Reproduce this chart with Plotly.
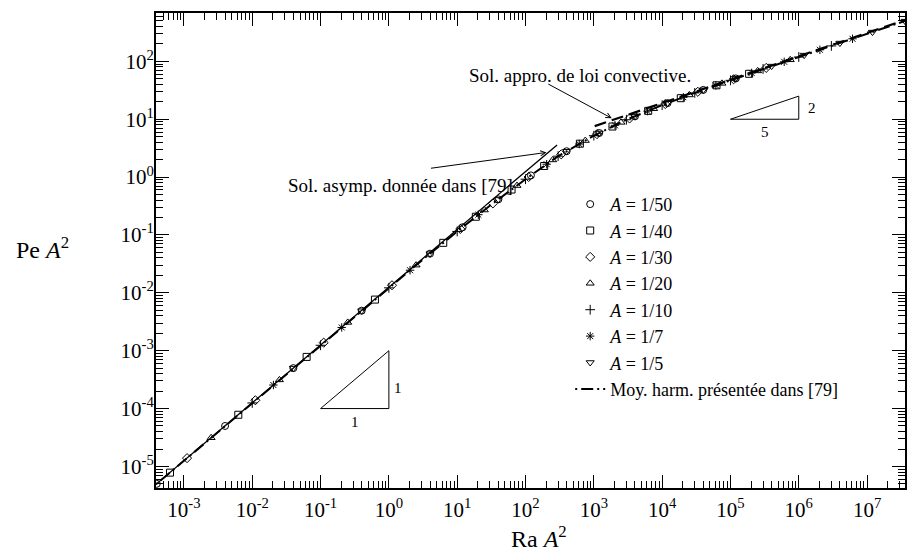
import plotly.graph_objects as go

# ---------------- data ----------------
labels = ["<i>A</i> = 1/50", "<i>A</i> = 1/40", "<i>A</i> = 1/30", "<i>A</i> = 1/20",
          "<i>A</i> = 1/10", "<i>A</i> = 1/7", "<i>A</i> = 1/5"]

x_50 = [4e-4, 4e-3, 0.04, 0.4, 4, 12, 40, 120, 400, 1200, 4000, 12000, 40000, 1.2e5]
y_50 = [5.0e-6, 5.0e-5, 5.0e-4, 4.91e-3, 0.0475, 0.136, 0.412, 1.07, 2.80, 5.78, 11.2, 19.0, 32.1, 50.7]

x_40 = [6.25e-4, 6.25e-3, 0.0625, 0.625, 6.25, 18.75, 62.5, 187.5, 625, 1875, 6250, 18750, 62500, 1.875e5]
y_40 = [7.81e-6, 7.81e-5, 7.81e-4, 7.64e-3, 0.0731, 0.2065, 0.610, 1.556, 3.78, 7.48, 13.96, 23.1, 38.6, 61.0]

x_30 = [1.11e-3, 0.0111, 0.111, 1.111, 11.11, 33.3, 111.1, 333, 1111, 3333, 11111, 33333, 1.111e5, 3.333e5]
y_30 = [1.39e-5, 1.39e-4, 1.377e-3, 0.01352, 0.127, 0.351, 1.005, 2.47, 5.53, 10.3, 18.3, 29.8, 49.1, 77.1]

x_20 = [2.5e-3, 0.025, 0.25, 2.5, 25, 75, 250, 750, 2500, 7500, 25000, 75000, 2.5e5, 7.5e5]
y_20 = [3.13e-5, 3.13e-4, 3.08e-3, 0.0301, 0.270, 0.714, 1.98, 4.28, 8.83, 15.2, 26.3, 41.7, 68.5, 106.4]

x_10 = [0.01, 0.1, 1, 10, 100, 300, 1000, 3000, 1e4, 3e4, 1e5, 3e5, 1e6, 3e6]
y_10 = [1.25e-4, 1.24e-3, 0.0122, 0.115, 0.92, 2.30, 5.2, 9.8, 17.5, 28.5, 47, 74, 119, 185]

x_7 = [0.0204, 0.204, 2.04, 20.4, 204, 612, 2041, 6122, 20408, 61224, 2.04e5, 6.12e5, 2.04e6, 6.12e6]
y_7 = [2.55e-4, 2.52e-3, 0.0246, 0.224, 1.67, 3.73, 7.85, 13.8, 24.0, 38.4, 63.1, 98.2, 158.5, 245.6]

x_5 = [0.04, 0.4, 4, 40, 400, 1200, 4000, 12000, 40000, 1.2e5, 4e5, 1.2e6, 4e6, 1.2e7, 3.6e7]
y_5 = [5.0e-4, 4.91e-3, 0.0475, 0.412, 2.80, 5.78, 11.2, 19.0, 32.1, 50.7, 82.8, 128.2, 207, 320.6, 495]

# harmonic mean curve
hm_x = [3.9e-4, 1e-3, 1e-2, 1e-1, 1, 3, 10, 30, 100, 300, 1e3, 3e3, 1e4, 3e4, 1e5, 3e5, 1e6, 3e6, 1e7, 3.6e7]
hm_y = [4.9e-6, 1.25e-5, 1.25e-4, 1.24e-3, 0.0122, 0.036, 0.115, 0.32, 0.92, 2.3, 5.2, 9.8, 17.5, 28.5, 47, 74, 119, 185, 298, 500]

# asymptotic (conductive) solution and convective law
asym_x = [3.9e-4, 290]
asym_y = [4.9e-6, 3.6]
conv_x = [1.03e3, 3.6e7]
conv_y = [7.6, 520]

# slope triangles
tri1_x = [0.1, 1, 1, 0.1]
tri1_y = [1e-4, 1e-4, 1e-3, 1e-4]
tri2_x = [1e5, 1e6, 1e6, 1e5]
tri2_y = [10, 10, 25.1, 10]

x_tick_exp = [-3, -2, -1, 0, 1, 2, 3, 4, 5, 6, 7]
y_tick_exp = [-5, -4, -3, -2, -1, 0, 1, 2]

# ---------------- figure ----------------
FONT = "Liberation Serif"
fig = go.Figure()

# lines
fig.add_trace(go.Scatter(x=asym_x, y=asym_y, mode="lines", showlegend=False,
                         line=dict(color="black", width=1.3), hoverinfo="skip"))
fig.add_trace(go.Scatter(x=conv_x, y=conv_y, mode="lines", showlegend=False,
                         line=dict(color="black", width=2.2, dash="12px,6px"), hoverinfo="skip"))
fig.add_trace(go.Scatter(x=tri1_x, y=tri1_y, mode="lines", showlegend=False,
                         line=dict(color="black", width=1), hoverinfo="skip"))
fig.add_trace(go.Scatter(x=tri2_x, y=tri2_y, mode="lines", showlegend=False,
                         line=dict(color="black", width=1), hoverinfo="skip"))

series = [(x_50, y_50, "circle-open"), (x_40, y_40, "square-open"), (x_30, y_30, "diamond-open"),
          (x_20, y_20, "triangle-up-open"), (x_10, y_10, "cross-thin-open"),
          (x_7, y_7, "asterisk-open"), (x_5, y_5, "triangle-down-open")]
for i, ((xs, ys, sym), lab) in enumerate(zip(series, labels)):
    fig.add_trace(go.Scatter(x=xs, y=ys, mode="markers", name=lab, legendrank=i + 1,
                             marker=dict(symbol=sym, size=7, color="black",
                                         line=dict(color="black", width=1))))

fig.add_trace(go.Scatter(x=hm_x, y=hm_y, mode="lines", name="Moy. harm. présentée dans [79]",
                         legendrank=10, line=dict(color="black", width=2, dash="2px,4px,12px,4px")))

# minor ticks
minor_x = [m * 10 ** k for k in range(-4, 8) for m in range(2, 10)]
minor_y = [m * 10 ** k for k in range(-6, 3) for m in range(2, 10)]

axis_common = dict(showline=True, linecolor="black", linewidth=2, mirror="ticks",
                   ticks="inside", ticklen=13, tickwidth=1.2, tickcolor="black",
                   showgrid=False, zeroline=False,
                   tickfont=dict(family=FONT, size=21, color="black"))

fig.update_xaxes(type="log", range=[-3.409, 7.555], tickmode="array",
                 tickvals=[10 ** e for e in x_tick_exp],
                 ticktext=[f"10<sup>{e}</sup>" for e in x_tick_exp],
                 ticklabelstandoff=2,
                 minor=dict(tickmode="array", tickvals=minor_x, ticks="inside", ticklen=7,
                            tickwidth=1, tickcolor="black", showgrid=False),
                 **axis_common)
fig.update_yaxes(type="log", range=[-5.373, 2.836], tickmode="array",
                 tickvals=[10 ** e for e in y_tick_exp],
                 ticktext=[f"10<sup>{e}</sup>" for e in y_tick_exp],
                 ticklabelstandoff=-4,
                 minor=dict(tickmode="array", tickvals=minor_y, ticks="inside", ticklen=7,
                            tickwidth=1, tickcolor="black", showgrid=False),
                 **axis_common)

ann = []
# axis titles
ann.append(dict(text="Pe <i>A</i><sup>2</sup>", xref="paper", yref="paper", x=-0.152, y=0.505,
                xanchor="center", yanchor="middle",
                showarrow=False, font=dict(family=FONT, size=24, color="black")))
ann.append(dict(text="Ra <i>A</i><sup>2</sup>", xref="paper", yref="paper", x=0.511, y=-0.104,
                xanchor="center", yanchor="middle",
                showarrow=False, font=dict(family=FONT, size=24, color="black")))
# texts
ann.append(dict(text="Sol. appro. de loi convective.", xref="paper", yref="paper", x=0.566, y=0.869,
                xanchor="center", yanchor="middle",
                showarrow=False, font=dict(family=FONT, size=19, color="black")))
ann.append(dict(text="Sol. asymp. donnée dans [79]", xref="paper", yref="paper", x=0.326, y=0.636,
                xanchor="center", yanchor="middle",
                showarrow=False, font=dict(family=FONT, size=19, color="black")))
# arrows (log coordinates)
ann.append(dict(text="", x=2.307, y=0.426, xref="x", yref="y", ax=-117, ay=16,
                showarrow=True, arrowhead=5, arrowsize=1, arrowwidth=1, arrowcolor="black"))
ann.append(dict(text="", x=3.263, y=1.017, xref="x", yref="y", ax=-65, ay=-35,
                showarrow=True, arrowhead=5, arrowsize=1, arrowwidth=1, arrowcolor="black"))
# triangle labels
for t, lx, ly in [("1", -0.5, -4.23), ("1", 0.131, -3.638), ("5", 5.51, 0.776), ("2", 6.19, 1.19)]:
    ann.append(dict(text=t, x=lx, y=ly, xref="x", yref="y", showarrow=False,
                    xanchor="center", yanchor="middle",
                    font=dict(family=FONT, size=15, color="black")))

fig.update_layout(
    width=909, height=555,
    margin=dict(l=156, r=2, t=13, b=67),
    paper_bgcolor="white", plot_bgcolor="white",
    font=dict(family=FONT, size=18, color="black"),
    annotations=ann,
    showlegend=True,
    legend=dict(x=0.553, y=0.636, xanchor="left", yanchor="top",
                bgcolor="rgba(0,0,0,0)", borderwidth=0,
                font=dict(family=FONT, size=18, color="black"), itemwidth=30),
)

fig.write_html("out.html")
